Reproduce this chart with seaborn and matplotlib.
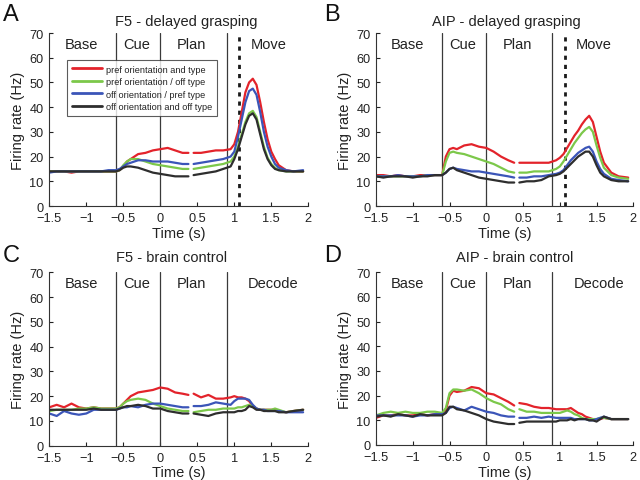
import numpy as np
import pandas as pd
import matplotlib
matplotlib.use("Agg")
import matplotlib.pyplot as plt
import seaborn as sns
from matplotlib.lines import Line2D

sns.set_theme(style="ticks")
plt.rcParams['font.family'] = ['Liberation Sans', 'DejaVu Sans']
plt.rcParams['axes.unicode_minus'] = True

# ---------------- data ----------------
time_s = [-1.5, -1.4, -1.3, -1.2, -1.1, -1.0, -0.9, -0.8, -0.7, -0.6,
          -0.55, -0.5, -0.45, -0.4, -0.3, -0.2, -0.1, 0.0, 0.1, 0.2, 0.3, 0.38,
          0.45, 0.55, 0.65, 0.75, 0.85, 0.95, 1.0, 1.05, 1.1, 1.15, 1.2, 1.25,
          1.3, 1.35, 1.4, 1.45, 1.5, 1.55, 1.6, 1.7, 1.8, 1.93]

conditions = ["pref orientation and type", "pref orientation / off type",
              "off orientation / pref type", "off orientation and off type"]

# Panel A: F5 - delayed grasping
A_red = [14, 14, 14, 13.5, 14, 14, 14, 14, 14, 14,
         14.5, 16, 18, 19, 21, 21.5, 22.5, 23, 23.5, 22.5, 21.5, 21.5,
         21.5, 21.5, 22, 22.5, 22.5, 23, 25, 30, 38, 46, 50, 51.5,
         49, 42, 34, 27, 22, 19, 16.5, 14.5, 14, 14]
A_green = [14, 14, 14, 14, 14, 14, 14, 14, 14, 14,
           14.5, 16.5, 18, 19, 19, 18, 17, 16.5, 16, 15.5, 15, 15,
           15, 15.5, 16, 16.5, 17, 18, 20, 24, 29, 34, 37.5, 38.5,
           36, 30, 24, 19.5, 17, 15.5, 14.5, 14, 14, 14]
A_blue = [13.5, 14, 14, 14, 14, 14, 14, 14, 14.5, 14.5,
          15, 16, 17, 17.5, 18.5, 18.5, 18, 18, 18, 17.5, 17, 17,
          17, 17.5, 18, 18.5, 19, 20, 22, 28, 35, 42, 46.5, 47.5,
          45, 38, 30, 24, 20, 17, 15.5, 14.5, 14, 14.5]
A_black = [14, 14, 14, 14, 14, 14, 14, 14, 14, 14,
           14.5, 15.5, 16, 16, 15.5, 14.5, 13.5, 13, 12.5, 12, 12, 12,
           12.5, 13, 13.5, 14, 15, 16, 19, 23, 28, 33, 36.5, 37.5,
           35, 29, 23, 19, 16.5, 15, 14.5, 14, 14, 14]

# Panel B: AIP - delayed grasping
B_red = [12.5, 12.5, 12, 12.5, 12, 12, 12.5, 12.5, 12.5, 12.5,
         20, 23, 23.5, 23, 24.5, 25, 24, 23.5, 22, 20, 18.5, 17.5,
         17.5, 17.5, 17.5, 17.5, 17.5, 18.5, 19.5, 21, 23.5, 26, 28.5, 30.5,
         33, 35, 36.5, 34, 28, 22, 17.5, 13.5, 12, 11.5]
B_green = [12, 12, 12, 12, 12, 12, 12, 12.5, 12.5, 12.5,
           18, 21.5, 22, 21.5, 21, 20, 19, 18, 17, 15.5, 14, 13.5,
           13.5, 13.5, 14, 14, 14, 15, 16, 18, 20.5, 23, 25.5, 27.5,
           29.5, 31, 32, 30, 24.5, 19.5, 15.5, 12.5, 11.5, 11]
B_blue = [12, 12, 12, 12.5, 12, 12, 12, 12.5, 12.5, 12.5,
          13.5, 15, 15.5, 15, 14.5, 14, 14, 13.5, 13, 12.5, 12, 11.5,
          11.5, 11.5, 12, 12, 12.5, 13, 13.5, 14.5, 16.5, 18.5, 20, 21.5,
          22.5, 23.5, 24, 22, 18, 15, 13, 11, 10.5, 10]
B_black = [12, 11.5, 12, 12, 12, 11.5, 12, 12, 12.5, 12.5,
           13.5, 15, 15.5, 14.5, 13.5, 12.5, 11.5, 11, 10.5, 10, 9.5, 9.5,
           9.5, 10, 10, 10.5, 12, 12.5, 13, 14, 15.5, 17, 18.5, 20,
           21, 22, 22, 20, 16.5, 13.5, 12, 10.5, 10, 10]

# Panel C: F5 - brain control
C_red = [15.5, 16.5, 15.5, 17, 15.5, 15, 15.5, 15, 15, 15,
         15.5, 17, 18.5, 20, 21.5, 22, 22.5, 23.5, 23, 21.5, 21, 20.5,
         21, 19.5, 20.5, 19, 19, 19.5, 20, 19.5, 19.5, 19, 18, 16,
         15, 14.5, 14.5, 14.5, 14.5, 14.5, 14, 13.5, 14, 14.5]
C_green = [14, 14.5, 14.5, 14.5, 15, 15, 15.5, 15, 15, 15,
           15.5, 17, 18, 18.5, 19, 18.5, 17, 16, 15, 14.5, 14, 14,
           13.5, 14, 14.5, 14.5, 15, 15, 15, 15.5, 15.5, 16, 16.5, 16,
           15, 14.5, 14.5, 14.5, 14.5, 15, 14.5, 13.5, 14, 14.5]
C_blue = [13, 12, 14, 13, 12.5, 13, 14.5, 14.5, 14.5, 14.5,
          15, 15.5, 15.5, 16, 15.5, 16.5, 17, 17, 16.5, 16, 15.5, 15.5,
          16, 16, 16.5, 17.5, 17, 16.5, 18, 19, 19, 19, 18.5, 16.5,
          15, 14.5, 14.5, 14, 14, 14, 14, 13.5, 13.5, 13.5]
C_black = [14.5, 14.5, 14.5, 14.5, 14.5, 14.5, 15, 14.5, 14.5, 14.5,
           15, 15.5, 16, 16, 16.5, 16, 15, 15, 14, 13.5, 13, 13,
           13, 12.5, 12, 13, 13.5, 13.5, 13.5, 14, 14, 14.5, 16, 15.5,
           14.5, 14.5, 14, 14, 14, 14, 13.5, 13.5, 14, 14.5]

# Panel D: AIP - brain control
D_red = [11, 12, 12, 12.5, 12, 12, 12.5, 12, 12.5, 12.5,
         14, 20, 22, 21.5, 22, 23.5, 23, 21, 20.5, 19, 17.5, 16,
         17, 16.5, 15.5, 15, 15, 14.5, 14.5, 14.5, 14.5, 15, 14, 13,
         12.5, 11.5, 11, 10.5, 10.5, 10.5, 11, 10.5, 10.5, 10.5]
D_green = [12, 13, 13.5, 13, 13.5, 13, 13, 13.5, 13.5, 13,
           15, 21, 22.5, 22.5, 22, 22.5, 21, 19, 17.5, 16.5, 14.5, 13.5,
           14.5, 13.5, 13.5, 13, 13, 13, 13, 13.5, 14, 13.5, 12.5, 12,
           11, 10.5, 10.5, 10.5, 10.5, 11, 11, 10.5, 10.5, 10.5]
D_blue = [12, 12, 12, 12, 12, 11.5, 12, 12, 12.5, 12.5,
          13, 15, 15.5, 15, 14, 15.5, 14.5, 13.5, 13, 12, 11.5, 11.5,
          11, 11, 11.5, 11, 11.5, 11, 11, 11, 11, 11, 10.5, 10.5,
          10.5, 10.5, 10, 10, 10.5, 11, 11.5, 10.5, 10.5, 10.5]
D_black = [11.5, 12, 11.5, 12.5, 12, 11.5, 12.5, 12, 12, 12,
           13, 15.5, 15.5, 14.5, 14, 13, 12, 10.5, 9.5, 9, 8.5, 8.5,
           9, 9.5, 9.5, 9.5, 9.5, 9.5, 10, 10, 10, 10.5, 10, 10.5,
           10.5, 10.5, 10, 10, 9.5, 10.5, 11.5, 10.5, 10.5, 10.5]

panels = {
    "A": ("F5 - delayed grasping", [A_red, A_green, A_blue, A_black], "Move"),
    "B": ("AIP - delayed grasping", [B_red, B_green, B_blue, B_black], "Move"),
    "C": ("F5 - brain control", [C_red, C_green, C_blue, C_black], "Decode"),
    "D": ("AIP - brain control", [D_red, D_green, D_blue, D_black], "Decode"),
}

epoch_bounds = [-0.6, 0.0, 0.9]
move_onset = 1.07
x_ticks = [-1.5, -1, -0.5, 0, 0.5, 1, 1.5, 2]
x_ticklabels = ["\u22121.5", "\u22121", "\u22120.5", "0", "0.5", "1", "1.5", "2"]
y_ticks = [0, 10, 20, 30, 40, 50, 60, 70]

colors = ["#e3232b", "#7cc84a", "#3b55b8", "#2e2e2e"]
palette = dict(zip(conditions, colors))

# ---------------- figure ----------------
fig = plt.figure(figsize=(6.4, 4.81), dpi=100)
W, H = 640.0, 481.0

axes_px = {
    "A": (49.3, 34.0, 308.3, 207.0),
    "B": (376.0, 34.0, 633.3, 207.0),
    "C": (49.3, 273.3, 308.3, 446.7),
    "D": (376.0, 273.3, 633.3, 446.0),
}
title_px = {"A": (186.0, 22.0), "B": (506.0, 22.0), "C": (172.0, 258.0), "D": (515.0, 258.0)}
letter_px = {"A": (3.0, 15.0), "B": (324.0, 15.0), "C": (3.0, 256.0), "D": (324.0, 256.0)}

for key, (title, series, last_epoch) in panels.items():
    l, t, r, b = axes_px[key]
    ax = fig.add_axes([l / W, 1 - b / H, (r - l) / W, (b - t) / H])
    rows = []
    for cond, vals in zip(conditions, series):
        for tt, v in zip(time_s, vals):
            rows.append({"t": tt, "rate": v, "cond": cond, "seg": int(tt > 0.4)})
    df = pd.DataFrame(rows)
    sns.lineplot(data=df, x="t", y="rate", hue="cond", units="seg",
                 estimator=None, palette=palette, hue_order=conditions,
                 linewidth=1.6, legend=False, ax=ax)
    for xb in epoch_bounds:
        ax.axvline(xb, color="#3a3a3a", lw=0.9, zorder=1)
    if last_epoch == "Move":
        ax.axvline(move_onset, color="#1a1a1a", lw=2.0, ls=(0, (1.5, 1.8)), zorder=1)
    ax.set_xlim(-1.5, 2)
    ax.set_ylim(0, 70)
    ax.set_xticks(x_ticks)
    ax.set_xticklabels(x_ticklabels)
    ax.set_yticks(y_ticks)
    ax.tick_params(direction="in", length=3, width=0.8, labelsize=9.2,
                   colors="#222222")
    ax.tick_params(axis="x", pad=4.5)
    ax.tick_params(axis="y", pad=4)
    for s in ["top", "right"]:
        ax.spines[s].set_visible(False)
    for s in ["left", "bottom"]:
        ax.spines[s].set_color("#333333")
        ax.spines[s].set_linewidth(0.8)
    ax.set_xlabel("Time (s)", fontsize=10.5, labelpad=1, color="#222222")
    ax.set_ylabel("Firing rate (Hz)", fontsize=10.5, labelpad=3, color="#222222")
    # epoch labels
    for lab, xc in [("Base", -1.07), ("Cue", -0.32), ("Plan", 0.42), (last_epoch, 1.46 if last_epoch == "Move" else 1.53)]:
        ax.text(xc, 65.5, lab, ha="center", va="center", fontsize=10.5, color="#222222")
    fx, fy = title_px[key]
    fig.text(fx / W, 1 - fy / H, title, ha="center", va="center", fontsize=10.5, color="#222222")
    lx, ly = letter_px[key]
    fig.text(lx / W, 1 - ly / H, key, ha="left", va="center", fontsize=17, color="#111111")
    if key == "A":
        handles = [Line2D([0], [0], color=c, lw=2.0) for c in colors]
        leg = ax.legend(handles, conditions, loc="upper left",
                        bbox_to_anchor=((67 - l) / (r - l), (b - 61) / (b - t)),
                        fontsize=6.6, frameon=True, fancybox=False,
                        handlelength=3.3, handletextpad=0.5, borderpad=0.5,
                        labelspacing=0.38, borderaxespad=0)
        leg.get_frame().set_edgecolor("#333333")
        leg.get_frame().set_linewidth(0.8)
        for txt in leg.get_texts():
            txt.set_color("#222222")

fig.savefig("out.png", dpi=100)
